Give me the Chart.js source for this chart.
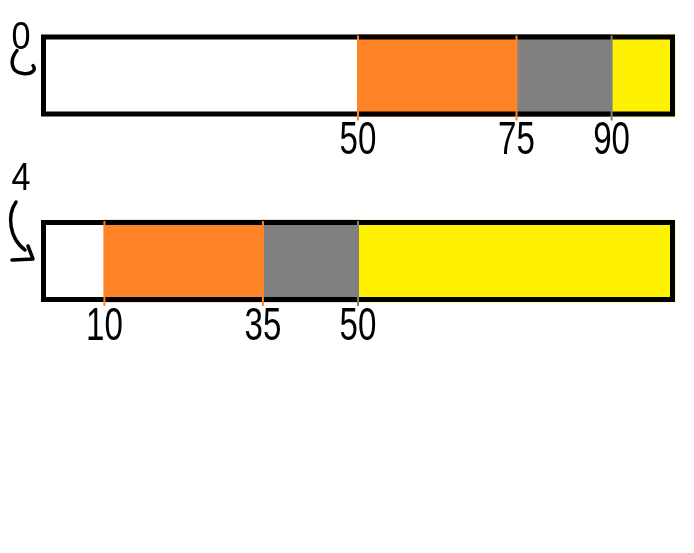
<!DOCTYPE html>
<html>
<head>
<meta charset="utf-8">
<script src="https://cdn.jsdelivr.net/npm/chart.js@4/dist/chart.umd.min.js"></script>
<style>
  html, body { margin: 0; padding: 0; background: #ffffff; }
  #wrap { width: 694px; height: 553px; }
</style>
</head>
<body>
<div id="wrap"><canvas id="c" width="694" height="553"></canvas></div>
<script>
// ---- data ----
const categories = ['0', '4'];
const whiteVals  = [50, 10];
const orangeVals = [25, 25];
const grayVals   = [15, 15];
const yellowVals = [10, 50];
const axisMax = 100;

const colors = ['#ffffff', '#ff8427', '#808080', '#fff200'];

const handDrawn = {
  id: 'handDrawn',
  afterDatasetsDraw(chart) {
    const ctx = chart.ctx;
    const xs = chart.scales.x;
    const metas = chart.data.datasets.map((d, i) => chart.getDatasetMeta(i));
    const bw = 5;
    chart.data.labels.forEach((lab, i) => {
      const el = metas[0].data[i];
      const h = el.height;
      const top = el.y - h / 2, bottom = el.y + h / 2;
      const left = xs.getPixelForValue(0), right = xs.getPixelForValue(axisMax);

      // outer black frame
      ctx.save();
      ctx.strokeStyle = '#000000';
      ctx.lineWidth = bw;
      ctx.strokeRect(left + bw / 2, top + bw / 2, right - left - bw, h - bw);
      ctx.restore();

      // boundary ticks + labels
      let cum = 0;
      for (let k = 0; k < chart.data.datasets.length - 1; k++) {
        cum += chart.data.datasets[k].data[i];
        const px = xs.getPixelForValue(cum);
        const col = colors[Math.max(k, 1)];
        ctx.save();
        ctx.strokeStyle = col;
        ctx.lineWidth = 2;
        ctx.beginPath();
        ctx.moveTo(px, top + 1);
        ctx.lineTo(px, bottom + 4);
        ctx.stroke();
        ctx.restore();

        ctx.save();
        ctx.fillStyle = '#000000';
        ctx.font = '46px "Liberation Sans"';
        ctx.textAlign = 'center';
        ctx.textBaseline = 'middle';
        ctx.translate(px, bottom + 25);
        ctx.scale(0.72, 1);
        ctx.fillText(String(cum), 0, 0);
        ctx.restore();
      }

      // category label with curly arrow
      ctx.save();
      ctx.fillStyle = '#000000';
      ctx.font = '38px "Liberation Sans"';
      ctx.textAlign = 'center';
      ctx.textBaseline = 'middle';
      const lx = left - 20;
      const ly = i === 0 ? top + 4 : top - 40;
      ctx.translate(lx, ly);
      ctx.scale(0.9, 1);
      ctx.fillText(lab, 0, 0);
      ctx.restore();

      ctx.save();
      ctx.strokeStyle = '#000000';
      ctx.lineWidth = 3.5;
      ctx.lineCap = 'round';
      ctx.lineJoin = 'round';
      ctx.beginPath();
      if (i === 0) {
        ctx.moveTo(lx - 4, top + 16);
        ctx.bezierCurveTo(lx - 12, top + 26, lx - 10, top + 38, lx + 2, top + 39);
        ctx.bezierCurveTo(lx + 10, top + 40, lx + 16, top + 36, lx + 12, top + 31);
      } else {
        ctx.moveTo(lx - 5, top - 18);
        ctx.bezierCurveTo(lx - 14, top - 5, lx - 12, top + 18, lx + 4, top + 30);
        ctx.moveTo(lx - 9, top + 40);
        ctx.lineTo(lx + 12, top + 39);
        ctx.lineTo(lx + 7, top + 26);
      }
      ctx.stroke();
      ctx.restore();
    });
  }
};

new Chart(document.getElementById('c'), {
  type: 'bar',
  data: {
    labels: categories,
    datasets: [
      { data: whiteVals,  backgroundColor: colors[0] },
      { data: orangeVals, backgroundColor: colors[1] },
      { data: grayVals,   backgroundColor: colors[2] },
      { data: yellowVals, backgroundColor: colors[3] }
    ]
  },
  options: {
    indexAxis: 'y',
    responsive: false,
    animation: false,
    devicePixelRatio: 1,
    layout: { padding: { top: 75.5, bottom: 292, left: 41, right: 19 } },
    datasets: { bar: { barThickness: 82, borderWidth: 0, clip: false } },
    plugins: { legend: { display: false }, tooltip: { enabled: false } },
    scales: {
      x: { stacked: true, min: 0, max: axisMax, display: false },
      y: { stacked: true, display: false, offset: false }
    }
  },
  plugins: [handDrawn]
});
</script>
</body>
</html>
